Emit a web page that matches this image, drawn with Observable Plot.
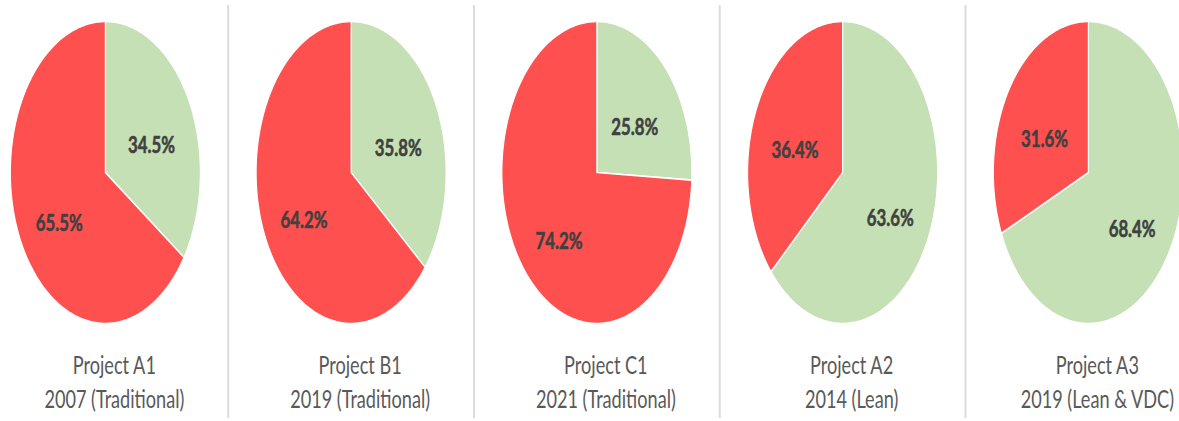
<!DOCTYPE html>
<html>
<head>
<meta charset="utf-8">
<script src="https://cdn.jsdelivr.net/npm/d3@7"></script>
<script src="https://cdn.jsdelivr.net/npm/@observablehq/plot@0.6"></script>
<style>
  html, body { margin: 0; padding: 0; background: #fff; overflow: hidden; }
  #chart { width: 1179px; height: 421px; overflow: hidden; }
</style>
</head>
<body>
<div id="chart"></div>
<script>
// ---- data ----
const projects = ["Project A1", "Project B1", "Project C1", "Project A2", "Project A3"];
const periods = ["2007 (Traditional)", "2019 (Traditional)", "2021 (Traditional)", "2014 (Lean)", "2019 (Lean & VDC)"];
const greenShare = [34.5, 35.8, 25.8, 63.6, 68.4];
const redShare = [65.5, 64.2, 74.2, 36.4, 31.6];

// ---- typography: condensed look of the reference (text drawn, then squeezed horizontally) ----
const FONT = "Lato, 'Open Sans', sans-serif";
const ctx = document.createElement("canvas").getContext("2d");
ctx.font = "100px " + FONT;
const capRatio = ctx.measureText("T").actualBoundingBoxAscent / 100 || 0.72;
const titleSize = 18.5 / capRatio;
const titleW = ctx.measureText(periods[0]).width * titleSize / 100;
let k = titleW / 140;
if (!(k >= 1 && k <= 1.8)) k = 1.3;
ctx.font = "bold 100px " + FONT;
const pctSize = 47 * k / (ctx.measureText("34.5%").width / 100);

// ---- layout / style ----
const W = Math.round(1179 * k), H = 421;
k = W / 1179;
const RX = 95 / (983 / 4);               // horizontal radius in pie-index units
const LABEL_R = 0.55;
const COLORS = {green: "#C5E0B4", red: "#FF5050"};

// build slice polygons and label positions from the values
const pts = [];
const labels = [];
projects.forEach((p, i) => {
  const parts = [{key: "green", v: greenShare[i]}, {key: "red", v: redShare[i]}];
  let a0 = 0;
  parts.forEach(({key, v}) => {
    const a1 = a0 + v / 100 * 2 * Math.PI;
    const id = `${i}-${key}`;
    pts.push({id, key, x: i, y: 0});
    const n = Math.max(2, Math.ceil((a1 - a0) / (Math.PI / 180)));
    for (let j = 0; j <= n; j++) {
      const a = a0 + (a1 - a0) * j / n;
      pts.push({id, key, x: i + RX * Math.sin(a), y: Math.cos(a)});
    }
    pts.push({id, key, x: i, y: 0});
    const m = (a0 + a1) / 2;
    labels.push({x: i + LABEL_R * RX * Math.sin(m), y: LABEL_R * Math.cos(m), text: v.toFixed(1) + "%"});
    a0 = a1;
  });
});
const titles = projects.map((p, i) => ({i, text: p + "\n" + periods[i]}));

const chart = Plot.plot({
  width: W,
  height: H,
  marginTop: 5,
  marginBottom: 3,
  marginLeft: 0,
  marginRight: 0,
  x: {domain: [0, 4], range: [105 * k, 1088 * k], axis: null},
  y: {domain: [-1, 1], range: [323, 21], axis: null},
  style: {background: "#fff"},
  marks: [
    Plot.ruleX([0.5, 1.5, 2.5, 3.5], {stroke: "#DCDCDC", strokeWidth: 2 * k}),
    Plot.line(pts.filter(d => d.key === "green"), {
      x: "x", y: "y", z: "id", fill: COLORS.green, stroke: "#fff", strokeWidth: 1.6, curve: "linear"
    }),
    Plot.line(pts.filter(d => d.key === "red"), {
      x: "x", y: "y", z: "id", fill: COLORS.red, stroke: "#fff", strokeWidth: 1.6, curve: "linear"
    }),
    Plot.text(labels, {
      x: "x", y: "y", text: "text", dy: 12,
      fontSize: pctSize, fontWeight: "bold", fill: "#404040",
      stroke: "#404040", strokeWidth: 0.6, fontFamily: FONT
    }),
    Plot.text(titles, {
      x: "i", y: () => -1, text: "text", lineAnchor: "top",
      dy: 367 - 322.7 - 0.71 * titleSize, dx: 9 * k,
      lineHeight: 34 / titleSize, fontSize: titleSize, fill: "#595959", fontFamily: FONT
    })
  ]
});

chart.setAttribute("width", 1179);
chart.setAttribute("height", H);
chart.setAttribute("viewBox", `0 0 ${W} ${H}`);
chart.setAttribute("preserveAspectRatio", "none");
chart.style.width = "1179px";
chart.style.height = H + "px";
chart.style.maxWidth = "none";
chart.style.overflow = "hidden";
document.getElementById("chart").appendChild(chart);
</script>
</body>
</html>
